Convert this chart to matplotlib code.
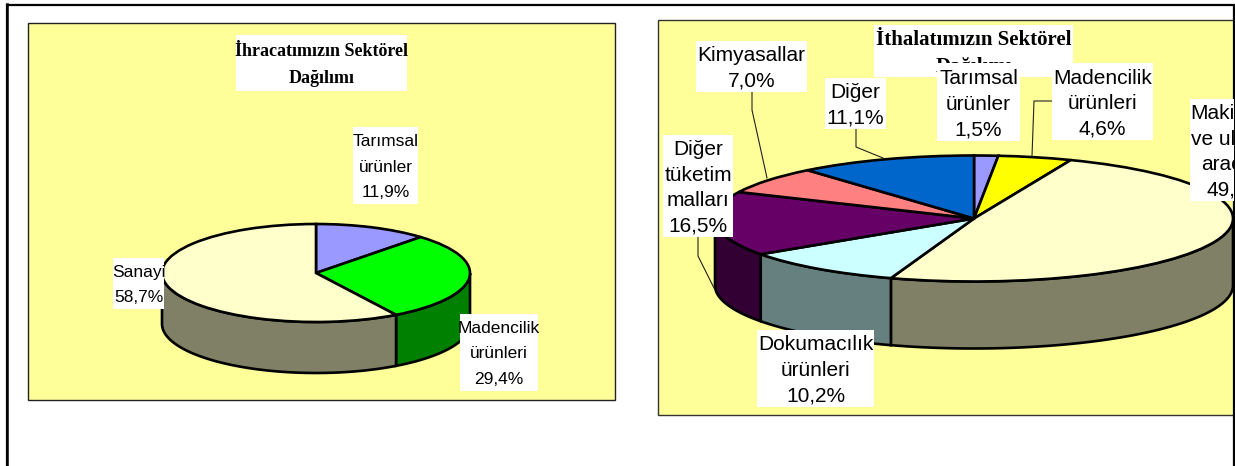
import matplotlib
matplotlib.use('Agg')
import matplotlib.pyplot as plt
from matplotlib import font_manager
from matplotlib.patches import Rectangle
import numpy as np

W, H = 1235, 466

export_labels = [['Tarımsal', 'ürünler', '11,9%'],
                 ['Madencilik', 'ürünleri', '29,4%'],
                 ['Sanayi', '58,7%']]
export_values = [11.9, 29.4, 58.7]
export_colors = ['#9999FF', '#00FF00', '#FFFFCC']
export_sides = ['#4C4C80', '#008000', '#808066']

import_labels = [['Tarımsal', 'ürünler', '1,5%'],
                 ['Madencilik', 'ürünleri', '4,6%'],
                 ['Makineler', 've ulaşım', 'araçları', '49,1%'],
                 ['Dokumacılık', 'ürünleri', '10,2%'],
                 ['Diğer', 'tüketim', 'malları', '16,5%'],
                 ['Kimyasallar', '7,0%'],
                 ['Diğer', '11,1%']]
import_values = [1.5, 4.6, 49.1, 10.2, 16.5, 7.0, 11.1]
import_colors = ['#9999FF', '#FFFF00', '#FFFFCC', '#CCFFFF', '#660066', '#FF8080', '#0066CC']
import_sides = ['#4C4C80', '#808000', '#808066', '#668080', '#330033', '#804040', '#003366']

title_export = ['İhracatımızın Sektörel', 'Dağılımı']
title_import = ['İthalatımızın Sektörel', 'Dağılımı']


def draw_pie(fig, values, colors, sides, cx, cy, rx, ry, depth):
    ax = fig.add_axes([(cx - rx) / W, (H - cy - ry) / H, 2 * rx / W, 2 * ry / H])
    ax.pie(values, colors=colors, startangle=90, counterclock=False, radius=1,
           wedgeprops={'edgecolor': 'black', 'linewidth': 1.9, 'zorder': 3,
                       'clip_on': False})
    ax.set_aspect('auto')
    ax.set_xlim(-1, 1)
    ax.set_ylim(-1, 1)
    d = depth / ry
    # side wall, only the part facing the viewer
    edges = np.cumsum([0] + list(values)) / np.sum(values) * 360
    for a0, a1, c in zip(edges[:-1], edges[1:], sides):
        lo, hi = max(a0, 90), min(a1, 270)
        if hi <= lo:
            continue
        t = np.radians(np.linspace(lo, hi, 60))
        x, y = np.sin(t), np.cos(t)
        ax.fill(np.r_[x, x[::-1]], np.r_[y, y[::-1] - d], facecolor=c,
                edgecolor='black', linewidth=1.9, zorder=2, clip_on=False)
    return ax


order = [5]


def label(ax, box, lines, size, pitch, xc=None, clip=None, **kw):
    # each label gets its own layer so a later box hides an earlier text
    order[0] += 2
    x0, y0, x1, y1 = box
    ax.add_patch(Rectangle((x0, y0), x1 - x0, y1 - y0, fc='white', ec='none', zorder=order[0]))
    xc = (x0 + x1) / 2 if xc is None else xc
    ym = (y0 + y1) / 2
    n = len(lines)
    for i, s in enumerate(lines):
        t = ax.text(xc, ym + (i - (n - 1) / 2) * pitch, s, ha='center', va='center_baseline',
                    fontsize=size, color='black', zorder=order[0] + 1, **kw)
        if clip is not None:
            t.set_clip_path(Rectangle((0, 0), clip, H, transform=ax.transData))


fig = plt.figure(figsize=(W / 100, H / 100), dpi=100, facecolor='white')
plt.rcParams['font.family'] = ['Liberation Sans', 'DejaVu Sans']

bg = fig.add_axes([0, 0, 1, 1])
bg.set_xlim(0, W)
bg.set_ylim(H, 0)
bg.axis('off')
# outer frame, open at the bottom
bg.plot([6.5, 6.5, 1234, 1234], [H, 4.5, 4.5, H], color='black', lw=1.6, solid_joinstyle='miter')
bg.plot([6.5, 6.5], [4, H], color='black', lw=1.8)
bg.plot([1234.3, 1234.3], [4, H], color='black', lw=0.8)
bg.add_patch(Rectangle((28, 23), 587, 377, fc='#FFFF99', ec='#222222', lw=1.0))
bg.add_patch(Rectangle((657.5, 19.5), 576, 395.5, fc='#FFFF99', ec='#333333', lw=1.0))

draw_pie(fig, export_values, export_colors, export_sides, 316, 273, 154, 49, 51)
draw_pie(fig, import_values, import_colors, import_sides, 974, 218.5, 259, 63, 67)

top = fig.add_axes([0, 0, 1, 1])
top.set_xlim(0, W)
top.set_ylim(H, 0)
top.axis('off')
top.patch.set_alpha(0)

# leader lines of the right pie
leaders = [([752, 752, 767], [92, 110, 178]),
           ([856, 856, 883], [129, 147, 158]),
           ([1052, 1034, 1032], [101, 101, 156]),
           ([698, 698, 714], [237, 256, 288])]
for lx, ly in leaders:
    top.plot(lx, ly, color='#222222', lw=0.8, zorder=4)

installed = {f.name for f in font_manager.fontManager.ttflist}
narrow = ['Liberation Sans Narrow'] if 'Liberation Sans Narrow' in installed else ['Liberation Sans']
size_l = 14.5 if 'Liberation Sans Narrow' in installed else 12.5
size_r = 15

serif = {'family': ['Liberation Serif', 'DejaVu Serif'], 'fontweight': 'bold'}
label(top, (236, 35, 407, 91), title_export, 13, 27, **serif)
label(top, (874, 25, 1073, 77), title_import, 15, 27, **serif)

label(top, (353, 127, 418, 204), export_labels[0], size_l, 25.5, family=narrow)
label(top, (460, 314, 538, 391), export_labels[1], size_l, 25.5, family=narrow)
label(top, (113, 258, 164, 309), export_labels[2], size_l, 25.5, family=narrow)

label(top, (937, 63, 1020, 141), import_labels[0], size_r, 25.5)
label(top, (1052, 63, 1153, 140), import_labels[1], size_r, 25.5)
label(top, (1190, 99, 1234, 201), import_labels[2], size_r, 25.5, xc=1236, clip=1234)
label(top, (757, 330, 874, 407), import_labels[3], size_r, 25.5)
label(top, (663, 135, 733, 237), import_labels[4], size_r, 25.5)
label(top, (696, 41, 807, 92), import_labels[5], size_r, 25.5)
label(top, (825, 78, 886, 129), import_labels[6], size_r, 25.5)

fig.savefig('out.png', dpi=100)
